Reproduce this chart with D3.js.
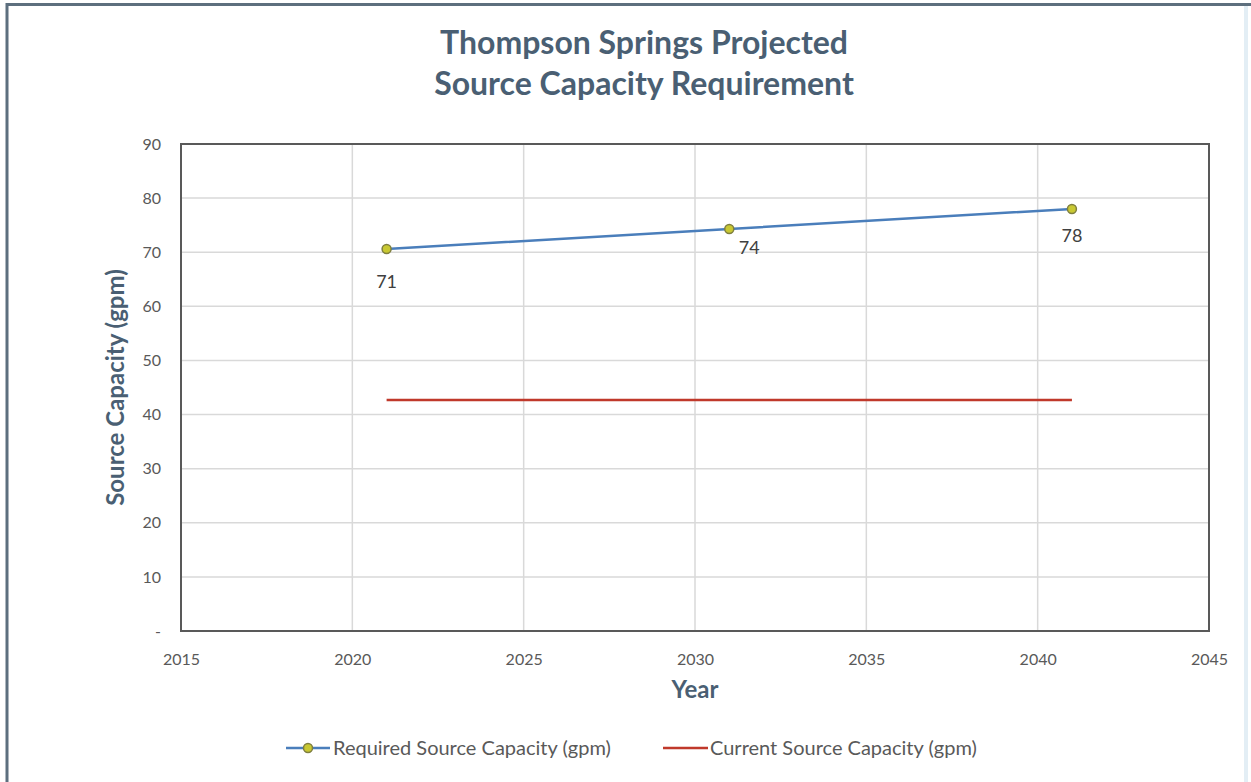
<!DOCTYPE html>
<html>
<head>
<meta charset="utf-8">
<script src="https://cdn.jsdelivr.net/npm/d3@7"></script>
<style>
  body { margin: 0; background: #fff; }
  svg text { font-family: Lato, "Open Sans", sans-serif; }
</style>
</head>
<body>
<svg id="chart" width="1251" height="782"></svg>
<script>
// data
var years = [2021, 2031, 2041];
var required = [70.6, 74.3, 78.0];
var requiredLabels = ["71", "74", "78"];
var currentYears = [2021, 2041];
var current = [42.7, 42.7];
var xTicks = [2015, 2020, 2025, 2030, 2035, 2040, 2045];
var yTicks = [0, 10, 20, 30, 40, 50, 60, 70, 80, 90];
var titleLines = ["Thompson Springs Projected", "Source Capacity Requirement"];
var seriesNames = ["Required Source Capacity (gpm)", "Current Source Capacity (gpm)"];

var svg = d3.select("#chart");
var W = 1251, H = 782;
var margin = { left: 181, right: 42, top: 144, bottom: 151 };
var slate = "#4a5f73";

// outer frame (only top and left edges show in the reference)
svg.append("rect").attr("x", 0).attr("y", 0).attr("width", W).attr("height", H).attr("fill", "#fff");
svg.append("line").attr("x1", 7).attr("x2", W).attr("y1", 4.5).attr("y2", 4.5)
    .attr("stroke", "#5d6f7e").attr("stroke-width", 3);
svg.append("line").attr("x1", 7).attr("x2", 7).attr("y1", 3).attr("y2", H)
    .attr("stroke", "#5d6f7e").attr("stroke-width", 3);
svg.append("line").attr("x1", W - 5).attr("x2", W - 5).attr("y1", 6).attr("y2", H)
    .attr("stroke", "#e3eef5").attr("stroke-width", 4);

var x = d3.scaleLinear().domain([2015, 2045]).range([margin.left, W - margin.right]);
var y = d3.scaleLinear().domain([0, 90]).range([H - margin.bottom, margin.top]);

// gridlines
svg.append("g").selectAll("line").data(xTicks.slice(1, -1)).enter().append("line")
    .attr("x1", d => x(d)).attr("x2", d => x(d))
    .attr("y1", y(90)).attr("y2", y(0))
    .attr("stroke", "#d9d9d9").attr("stroke-width", 1.5);
svg.append("g").selectAll("line").data(yTicks.slice(1, -1)).enter().append("line")
    .attr("x1", x(2015)).attr("x2", x(2045))
    .attr("y1", d => y(d)).attr("y2", d => y(d))
    .attr("stroke", "#d9d9d9").attr("stroke-width", 1.5);

// plot frame
svg.append("rect")
    .attr("x", x(2015)).attr("y", y(90))
    .attr("width", x(2045) - x(2015)).attr("height", y(0) - y(90))
    .attr("fill", "none").attr("stroke", "#595959").attr("stroke-width", 2);

// axes (labels only)
var xAxis = svg.append("g").attr("transform", "translate(0," + y(0) + ")")
    .call(d3.axisBottom(x).tickValues(xTicks).tickFormat(d3.format("d")).tickSize(0).tickPadding(23));
var yAxis = svg.append("g").attr("transform", "translate(" + x(2015) + ",0)")
    .call(d3.axisLeft(y).tickValues(yTicks).tickFormat(d => d === 0 ? "-" : d).tickSize(0).tickPadding(20));
[xAxis, yAxis].forEach(function(a) {
    a.select(".domain").remove();
    a.selectAll("text").attr("fill", "#595959").style("font-size", "16px")
        .style("font-family", "Lato, 'Open Sans', sans-serif");
});

// current capacity
var line = d3.line().x(d => x(d[0])).y(d => y(d[1]));
svg.append("path").datum(currentYears.map((d, i) => [d, current[i]]))
    .attr("d", line).attr("fill", "none").attr("stroke", "#c0392b").attr("stroke-width", 2.5);

// required capacity
var req = years.map((d, i) => [d, required[i]]);
svg.append("path").datum(req).attr("d", line)
    .attr("fill", "none").attr("stroke", "#4a7ebb").attr("stroke-width", 2.5);
svg.append("g").selectAll("circle").data(req).enter().append("circle")
    .attr("cx", d => x(d[0])).attr("cy", d => y(d[1])).attr("r", 4.5)
    .attr("fill", "#c8c832").attr("stroke", "#7f7f3f").attr("stroke-width", 1.5);
var labelOffsets = [[0, 39], [20, 25], [0, 33]];
svg.append("g").selectAll("text").data(req).enter().append("text")
    .attr("x", (d, i) => x(d[0]) + labelOffsets[i][0])
    .attr("y", (d, i) => y(d[1]) + labelOffsets[i][1])
    .attr("text-anchor", "middle").attr("fill", "#404040").style("font-size", "18px")
    .text((d, i) => requiredLabels[i]);

// titles
svg.append("g").selectAll("text").data(titleLines).enter().append("text")
    .attr("x", 644).attr("y", (d, i) => 54 + i * 41)
    .attr("text-anchor", "middle").attr("fill", slate)
    .style("font-size", "32px").style("font-weight", "bold").text(d => d);
svg.append("text").attr("x", x(2030)).attr("y", 698).attr("text-anchor", "middle")
    .attr("fill", slate).style("font-size", "24px").style("font-weight", "bold").text("Year");
svg.append("text").attr("transform", "translate(124," + y(45) + ") rotate(-90)")
    .attr("text-anchor", "middle").attr("fill", slate)
    .style("font-size", "24px").style("font-weight", "bold").text("Source Capacity (gpm)");

// legend
var lg = svg.append("g").attr("transform", "translate(0,748)");
lg.append("line").attr("x1", 286).attr("x2", 330).attr("stroke", "#4a7ebb").attr("stroke-width", 2.5);
lg.append("circle").attr("cx", 308).attr("r", 4.5)
    .attr("fill", "#c8c832").attr("stroke", "#7f7f3f").attr("stroke-width", 1.5);
lg.append("text").attr("x", 333).attr("dy", "0.35em").attr("fill", "#595959")
    .style("font-size", "20px").text(seriesNames[0]);
lg.append("line").attr("x1", 663).attr("x2", 708).attr("stroke", "#c0392b").attr("stroke-width", 2.5);
lg.append("text").attr("x", 710).attr("dy", "0.35em").attr("fill", "#595959")
    .style("font-size", "20px").text(seriesNames[1]);
</script>
</body>
</html>
